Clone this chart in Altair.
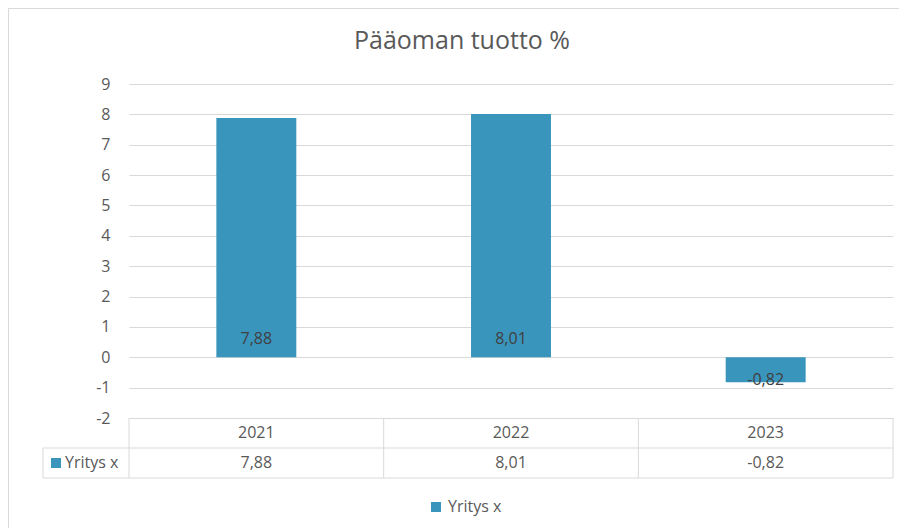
import altair as alt
import pandas as pd

# ---- data ----
years = ["2021", "2022", "2023"]
values = [7.88, 8.01, -0.82]
series_name = "Yritys x"
chart_title = "Pääoman tuotto %"
y_ticks = list(range(-2, 10))

labels = [f"{v:.2f}".replace(".", ",") for v in values]
df = pd.DataFrame({"year": years, "value": values, "label": labels,
                   "series": [series_name] * len(years)})
series_df = pd.DataFrame({"series": [series_name]})

# ---- style ----
W, H = 764, 334
FONT = "Open Sans"
GRAY = "#595959"
DARK = "#404040"
LINE = "#d9d9d9"
BAR = "#3A95BD"
FS = 16

xs = alt.Scale(paddingInner=0, paddingOuter=0)
X = alt.X("year:N", sort=years, scale=xs, axis=None)
ys = alt.Scale(domain=[-2, 9], nice=False, zero=False)
yaxis = alt.Axis(values=y_ticks, title=None, grid=True, gridColor=LINE,
                 domain=False, ticks=False, labelColor=GRAY,
                 labelFontSize=FS, labelFont=FONT, labelPadding=19,
                 labelOverlap=False, labelExpr="'' + datum.value")
Y = alt.Y("value:Q", scale=ys, axis=yaxis)
Y0 = alt.YDatum(0, type="quantitative", scale=ys, axis=yaxis)

base = alt.Chart(df)

bars = base.mark_bar(width=alt.RelativeBandSize(0.314)).encode(
    x=X, y=Y,
    color=alt.Color("series:N", scale=alt.Scale(range=[BAR]),
                    legend=alt.Legend(orient="none", legendX=299, legendY=415,
                                      title=None, symbolType="square",
                                      symbolSize=100, symbolStrokeWidth=0,
                                      labelFontSize=FS, labelColor=GRAY,
                                      labelFont=FONT, padding=0,
                                      direction="horizontal")),
)

pos_lab = base.transform_filter("datum.value >= 0").mark_text(
    baseline="alphabetic", dy=-13, fontSize=FS, font=FONT, color=DARK
).encode(x=X, y=Y0, text="label:N")

neg_lab = base.transform_filter("datum.value < 0").mark_text(
    baseline="top", dy=15, fontSize=FS, font=FONT, color=DARK
).encode(x=X, y=Y0, text="label:N")

# ---- data table below the plot ----
head_txt = base.mark_text(fontSize=FS, font=FONT, color=GRAY, baseline="middle").encode(
    x=X, y=alt.value(349), text="year:N")
val_txt = base.mark_text(fontSize=FS, font=FONT, color=GRAY, baseline="middle").encode(
    x=X, y=alt.value(379), text="label:N")

vrules = base.mark_rule(color=LINE).encode(
    x=alt.X("year:N", sort=years, scale=xs, axis=None, bandPosition=0),
    y=alt.value(334), y2=alt.value(394))

frame = alt.Chart(series_df)
right_rule = frame.mark_rule(color=LINE).encode(x=alt.value(W), y=alt.value(334), y2=alt.value(394))
left_rule = frame.mark_rule(color=LINE).encode(x=alt.value(-86), y=alt.value(364), y2=alt.value(394))
h1 = frame.mark_rule(color=LINE).encode(x=alt.value(-86), x2=alt.value(W), y=alt.value(364))
h2 = frame.mark_rule(color=LINE).encode(x=alt.value(-86), x2=alt.value(W), y=alt.value(394))
row_sq = frame.mark_square(size=100, color=BAR, opacity=1).encode(x=alt.value(-73), y=alt.value(379))
row_txt = frame.mark_text(align="left", baseline="middle", fontSize=FS, font=FONT, color=GRAY).encode(
    x=alt.value(-64), y=alt.value(379), text="series:N")

# outer chart frame
top_frame = frame.mark_rule(color=LINE).encode(x=alt.value(-120.5), x2=alt.value(W + 20), y=alt.value(-75.5))
left_frame = frame.mark_rule(color=LINE).encode(x=alt.value(-120.5), y=alt.value(-75.5), y2=alt.value(H + 120))

chart = alt.layer(
    top_frame, left_frame,
    bars, pos_lab, neg_lab,
    vrules, right_rule, left_rule, h1, h2,
    head_txt, val_txt, row_sq, row_txt,
).properties(
    width=W, height=H,
    title=alt.TitleParams(chart_title, fontSize=25, font=FONT, color=GRAY,
                          fontWeight="normal", anchor="middle", dx=-49,
                          baseline="alphabetic", frame="group", offset=-66),
    autosize=alt.AutoSizeParams(type="none"),
    padding={"left": 121, "top": 76, "right": 6, "bottom": 110},
).configure_view(stroke=None)

chart.save("out.html", embed_options={"renderer": "svg", "actions": False})
